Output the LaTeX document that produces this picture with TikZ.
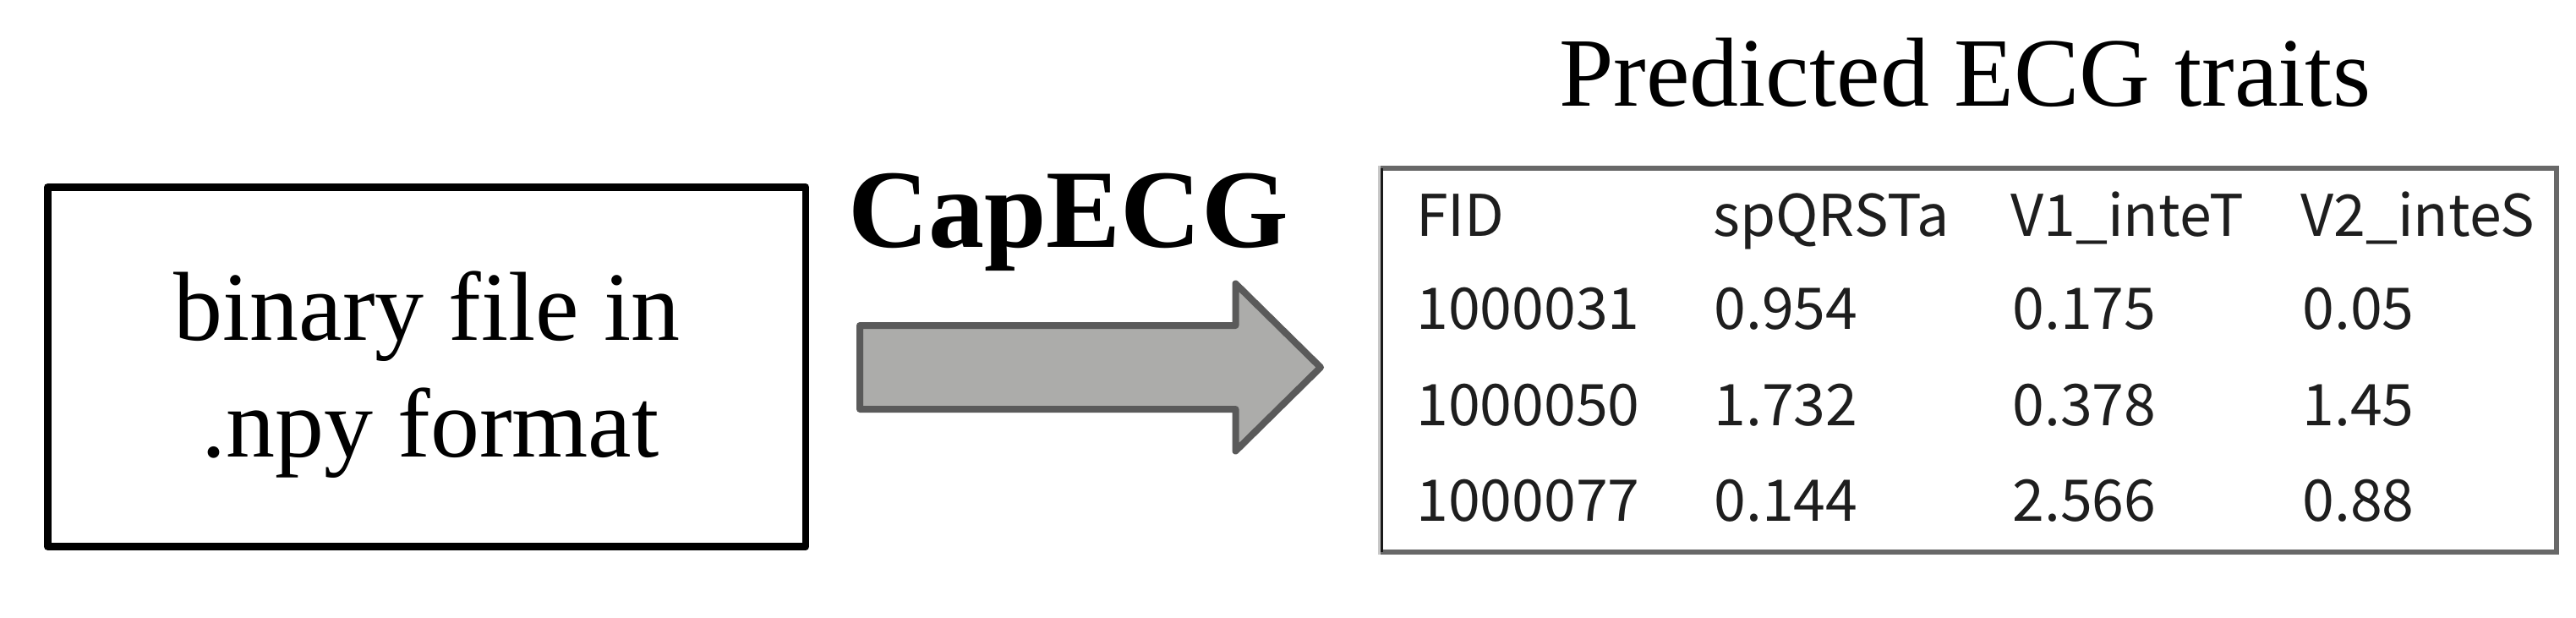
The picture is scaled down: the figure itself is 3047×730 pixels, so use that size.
\documentclass[tikz,border=0pt]{standalone}
\usepackage{fontspec}
\setmainfont{Liberation Serif}
\newfontfamily\tabfont{Noto Sans CJK SC}
\definecolor{arrowfill}{HTML}{ACACAA}
\definecolor{arrowline}{HTML}{5A5A5A}
\definecolor{tabline}{HTML}{686868}
\definecolor{tabtext}{HTML}{1E1E1E}
\begin{document}
\begin{tikzpicture}[x=0.5pt,y=-0.5pt,
  serifbig/.style={font=\fontsize{58}{69}\selectfont, inner sep=0pt, anchor=base},
  boldbig/.style={font=\fontsize{66}{79}\selectfont\bfseries, inner sep=0pt, anchor=base},
  inbox/.style={draw=black, line width=4.35pt, line join=round, minimum width=448.4pt, minimum height=212.5pt, inner sep=0pt},
  tablebox/.style={draw=tabline, line width=3pt, minimum width=695.5pt, minimum height=227pt, inner sep=0pt},
  cell/.style={font=\tabfont\fontsize{34}{40}\selectfont, text=tabtext, inner sep=0pt, anchor=base west},
  arrowshape/.style={draw=arrowline, fill=arrowfill, line width=4pt, line join=round}
]
\useasboundingbox (0,0) rectangle (3047,730);
\fill[white] (0,0) rectangle (3047,730);

% input box
\node[inbox] (input) at (504.6,434) {};
\node[serifbig] (inA) at (505,402) {binary file in};
\node[serifbig] (inB) at (509,540) {.npy format};

% CapECG label and block arrow
\node[boldbig] (cap) at (1263.5,292) {CapECG};
\draw[arrowshape] (1017,385) -- (1461.5,385) -- (1461.5,335.5) -- (1562,434.5)
  -- (1461.5,533.5) -- (1461.5,484) -- (1017,484) -- cycle;

% title
\node[serifbig] (title) at (2324,125) {Predicted ECG traits};

% table
\node[tablebox] (table) at (2328.5,426) {};
\draw[line width=1.5pt, draw={rgb,255:red,200;green,200;blue,200}] (1631.5,196) -- (1631.5,656);
\draw[line width=1.5pt, draw={rgb,255:red,26;green,26;blue,26}] (1634.5,199) -- (1634.5,653);

\node[cell] (h1) at (1675,279) {FID};
\node[cell] (h2) at (2026,279) {spQRSTa};
\node[cell] (h3) at (2378,279) {V1\_inteT};
\node[cell] (h4) at (2721,279) {V2\_inteS};

\node[cell] (a1) at (1675,389) {1000031};
\node[cell] (a2) at (2027,389) {0.954};
\node[cell] (a3) at (2380,389) {0.175};
\node[cell] (a4) at (2723,389) {0.05};

\node[cell] (b1) at (1675,503) {1000050};
\node[cell] (b2) at (2027,503) {1.732};
\node[cell] (b3) at (2380,503) {0.378};
\node[cell] (b4) at (2723,503) {1.45};

\node[cell] (c1) at (1675,616) {1000077};
\node[cell] (c2) at (2027,616) {0.144};
\node[cell] (c3) at (2380,616) {2.566};
\node[cell] (c4) at (2723,616) {0.88};
\end{tikzpicture}
\end{document}
